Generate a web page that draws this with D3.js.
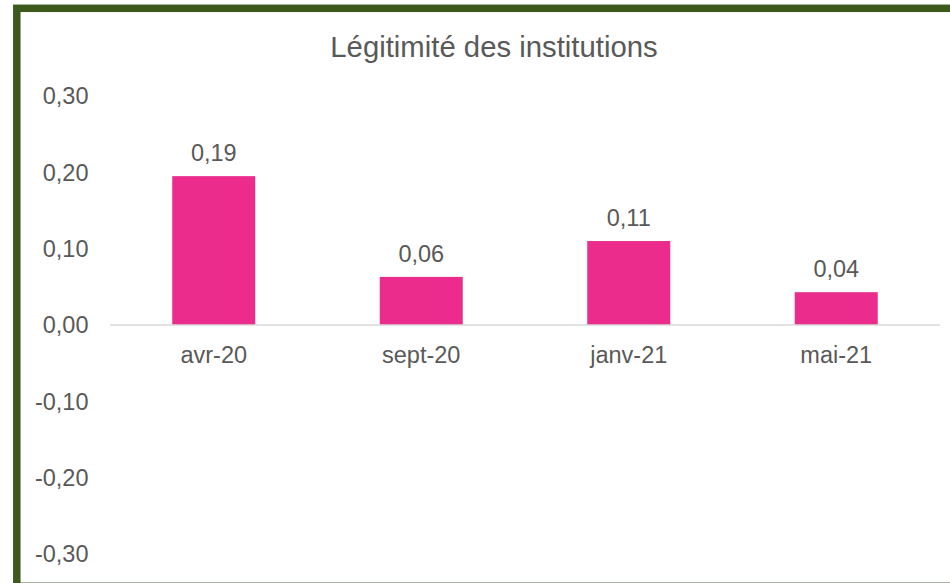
<!DOCTYPE html>
<meta charset="utf-8">
<style>
body {
  margin: 0;
  font-family: "Liberation Sans", Arial, sans-serif;
  background: #fff;
}
html { overflow: hidden; }
svg text { fill: #595959; }
.tick-label { font-size: 23.5px; }
.value-label { font-size: 23.5px; text-anchor: middle; }
.title { font-size: 29.3px; text-anchor: middle; }
</style>
<body>
<script src="https://cdn.jsdelivr.net/npm/d3@7"></script>
<script>
var categories = ["avr-20", "sept-20", "janv-21", "mai-21"];
var values = [0.195, 0.063, 0.11, 0.043];
var valueLabels = ["0,19", "0,06", "0,11", "0,04"];
var yTicks = [0.3, 0.2, 0.1, 0, -0.1, -0.2, -0.3];
var titleText = "Légitimité des institutions";

var W = 950, H = 583;

var svg = d3.select("body").append("svg")
    .attr("width", W)
    .attr("height", H);

// chart frame (right side runs off the picture)
svg.append("rect")
    .attr("x", 16.8)
    .attr("y", 8.3)
    .attr("width", 1000)
    .attr("height", 578)
    .attr("fill", "#fff")
    .attr("stroke", "#3d5a1c")
    .attr("stroke-width", 7.5);

var x = d3.scaleBand()
    .domain(categories)
    .range([110, 940])
    .paddingInner(0.6)
    .paddingOuter(0.3);

var y = d3.scaleLinear()
    .domain([-0.3, 0.3])
    .range([554, 96]);

var fmt = function(v) { return d3.format(".2f")(v).replace(".", ",").replace("−", "-"); };

// y tick labels
svg.selectAll(".tick-label.y")
    .data(yTicks)
    .enter().append("text")
    .attr("class", "tick-label y")
    .attr("x", 88.5)
    .attr("y", function(d) { return y(d); })
    .attr("dy", "0.36em")
    .style("text-anchor", "end")
    .text(function(d) { return fmt(d); });

// bars
svg.selectAll(".bar")
    .data(values)
    .enter().append("rect")
    .attr("class", "bar")
    .attr("x", function(d, i) { return x(categories[i]); })
    .attr("width", x.bandwidth())
    .attr("y", function(d) { return y(Math.max(0, d)); })
    .attr("height", function(d) { return Math.abs(y(d) - y(0)); })
    .attr("fill", "#ec2c8c");

// zero line
svg.append("line")
    .attr("x1", 110).attr("x2", 940)
    .attr("y1", y(0)).attr("y2", y(0))
    .attr("stroke", "#d9d9d9")
    .attr("stroke-width", 1.5);

// value labels
svg.selectAll(".value-label")
    .data(values)
    .enter().append("text")
    .attr("class", "value-label")
    .attr("x", function(d, i) { return x(categories[i]) + x.bandwidth() / 2; })
    .attr("y", function(d) { return y(d) - 15; })
    .text(function(d, i) { return valueLabels[i]; });

// category labels
svg.selectAll(".cat-label")
    .data(categories)
    .enter().append("text")
    .attr("class", "tick-label")
    .attr("x", function(d) { return x(d) + x.bandwidth() / 2; })
    .attr("y", 363)
    .style("text-anchor", "middle")
    .text(function(d) { return d; });

svg.append("text")
    .attr("class", "title")
    .attr("x", 494)
    .attr("y", 57)
    .text(titleText);
</script>
</body>
